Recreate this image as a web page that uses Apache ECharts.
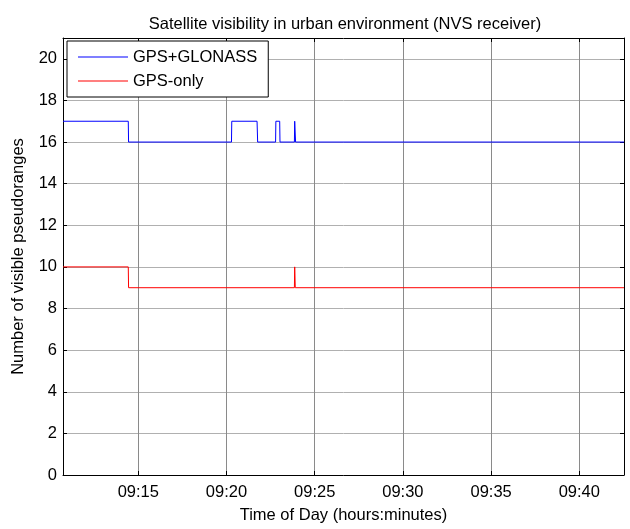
<!DOCTYPE html>
<html><head><meta charset="utf-8">
<script src="https://cdn.jsdelivr.net/npm/echarts@6/dist/echarts.min.js"></script>
<style>html,body{margin:0;padding:0;background:#fff}#c{width:630px;height:529px}</style>
</head><body><div id="c"></div>
<script>
// Time range of the x axis (hh:mm:ss)
const xStart = '09:10:44';
const xEnd = '09:42:32';
// Tick labels
const xTickLabels = ['09:15', '09:20', '09:25', '09:30', '09:35', '09:40'];
const yTicks = [0, 2, 4, 6, 8, 10, 12, 14, 16, 18, 20];
// GPS+GLONASS series
const glonassTimes = ['09:10:44','09:14:26','09:14:27','09:20:17','09:20:18','09:21:44','09:21:46','09:22:47','09:22:48','09:23:01','09:23:02','09:23:51','09:23:52','09:23:54','09:23:55','09:42:32'];
const glonassValues = [17,17,16,16,17,17,16,16,17,17,16,16,17,17,16,16];
// GPS-only series
const gpsTimes = ['09:10:44','09:14:26','09:14:27','09:23:51','09:23:52','09:23:53','09:23:54','09:42:32'];
const gpsValues = [10,10,9,9,10,10,9,9];

function toMin(s){const p=s.split(':').map(Number);return (p[0]-9)*60+p[1]+p[2]/60;}
function fmt(v){const h=9+Math.floor(v/60);const m=Math.round(v-(h-9)*60);return String(h).padStart(2,'0')+':'+String(m).padStart(2,'0');}
const xTicks = xTickLabels.map(t=>toMin(t+':00'));
const FONT = 'Liberation Sans, Arial, sans-serif';
const FS = 16.5;
const xmin = toMin(xStart), xmax = toMin(xEnd);

const chart = echarts.init(document.getElementById('c'), null, {renderer:'canvas'});
const baseX = {type:'value', min:xmin, max:xmax,
  axisLine:{show:true,onZero:false,lineStyle:{color:'#000',width:1}},
  axisTick:{show:true,inside:true,length:4,customValues:xTicks,lineStyle:{color:'#000'}}};
const baseY = {type:'value', min:0, max:21,
  axisLine:{show:true,onZero:false,lineStyle:{color:'#000',width:1}},
  axisTick:{show:true,inside:true,length:4,customValues:yTicks,lineStyle:{color:'#000'}}};
chart.setOption({
  animation:false,
  backgroundColor:'#fff',
  title:{text:'Satellite visibility in urban environment (NVS receiver)', left:340, top:11, textAlign:'center',
    textStyle:{fontFamily:FONT,fontSize:FS,fontWeight:'normal',color:'#000'}},
  grid:{left:63,right:6,top:38,bottom:49,containLabel:false},
  legend:{show:true, orient:'vertical', left:67, top:41, itemWidth:50, itemHeight:1, itemGap:6,
    icon:'rect',
    backgroundColor:'#fff', borderColor:'#000', borderWidth:1, padding:[7,11,7,11],
    textStyle:{fontFamily:FONT,fontSize:FS,color:'#000',lineHeight:18},
    data:['GPS+GLONASS','GPS-only']},
  xAxis:[
    Object.assign({}, baseX, {position:'bottom',
      name:'Time of Day (hours:minutes)', nameLocation:'middle', nameGap:32,
      nameTextStyle:{fontFamily:FONT,fontSize:FS,color:'#000'},
      axisLabel:{show:true,customValues:xTicks,formatter:v=>fmt(v),fontFamily:FONT,fontSize:FS,color:'#000',margin:9},
      splitLine:{show:true,lineStyle:{color:'#8a8a8a',width:1}}}),
    Object.assign({}, baseX, {position:'top', axisLabel:{show:false}, splitLine:{show:false}})
  ],
  yAxis:[
    Object.assign({}, baseY, {position:'left',
      name:'Number of visible pseudoranges', nameLocation:'middle', nameGap:36, nameRotate:90,
      nameTextStyle:{fontFamily:FONT,fontSize:FS,color:'#000'},
      axisLabel:{show:true,customValues:yTicks,fontFamily:FONT,fontSize:FS,color:'#000',margin:6},
      splitLine:{show:true,lineStyle:{color:'#b0b0b0',width:1}}}),
    Object.assign({}, baseY, {position:'right', axisLabel:{show:false}, splitLine:{show:false}})
  ],
  series:[
    {name:'GPS+GLONASS', type:'line', xAxisIndex:0, yAxisIndex:0, symbol:'none', showSymbol:false,
     lineStyle:{color:'#0000ff',width:1}, itemStyle:{color:'#0000ff'},
     data:glonassTimes.map((t,i)=>[toMin(t),glonassValues[i]])},
    {name:'GPS-only', type:'line', xAxisIndex:0, yAxisIndex:0, symbol:'none', showSymbol:false,
     lineStyle:{color:'#ff0000',width:1}, itemStyle:{color:'#ff0000'},
     data:gpsTimes.map((t,i)=>[toMin(t),gpsValues[i]])}
  ]
});
</script></body></html>
